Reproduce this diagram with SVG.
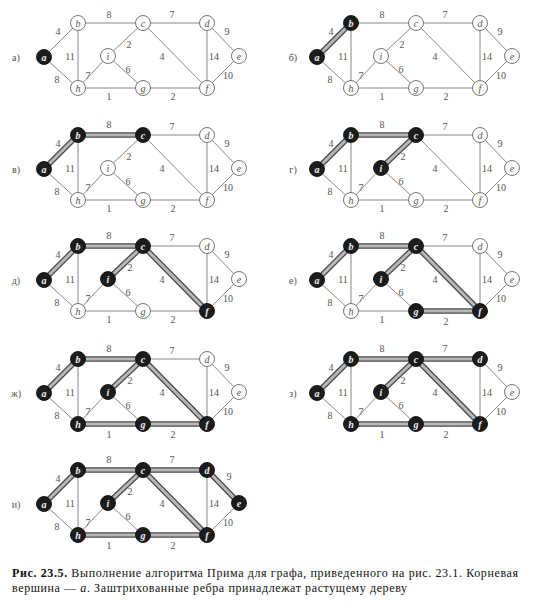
<svg xmlns="http://www.w3.org/2000/svg" width="541" height="611" viewBox="0 0 541 611">
<style>
.bg{fill:#ffffff}
.e{stroke:#7a7a7a;stroke-width:0.9;fill:none}
.t1{stroke:#4a4a4a;stroke-width:5.5;stroke-linecap:round;fill:none}
.t2{stroke:#b8b8b8;stroke-width:3;stroke-linecap:round;fill:none}
.w{font-family:"Liberation Serif","Times New Roman",serif;font-size:10px;fill:#555;text-anchor:middle}
.pl{font-family:"Liberation Serif","Times New Roman",serif;font-size:10px;fill:#555;text-anchor:middle}
.n circle{fill:#fff;stroke:#666;stroke-width:0.9}
.n text{font-family:"Liberation Serif","Times New Roman",serif;font-style:italic;font-size:10px;fill:#555;text-anchor:middle}
.k circle{fill:#1c1c1c;stroke:#111;stroke-width:0.9}
.k text{font-family:"Liberation Serif","Times New Roman",serif;font-style:italic;font-weight:bold;font-size:10px;fill:#eee;text-anchor:middle}
.cap{font-family:"Liberation Serif","Times New Roman",serif;font-size:12px;fill:#111}
</style>
<rect class="bg" x="0" y="0" width="541" height="611"/>

<!-- Panel а -->
<g id="panel-1" transform="translate(0,0)">
<text class="pl" x="16" y="61">а)</text>
<g id="p1-connectors">
<line class="e" x1="44" y1="57" x2="78" y2="23"/><line class="e" x1="78" y1="23" x2="143" y2="23"/><line class="e" x1="143" y1="23" x2="207" y2="23"/><line class="e" x1="207" y1="23" x2="239" y2="56"/><line class="e" x1="78" y1="23" x2="78" y2="88"/><line class="e" x1="44" y1="57" x2="78" y2="88"/><line class="e" x1="78" y1="88" x2="108" y2="56"/><line class="e" x1="143" y1="23" x2="108" y2="56"/><line class="e" x1="108" y1="56" x2="143" y2="88"/><line class="e" x1="78" y1="88" x2="143" y2="88"/><line class="e" x1="143" y1="88" x2="207" y2="88"/><line class="e" x1="143" y1="23" x2="207" y2="88"/><line class="e" x1="207" y1="23" x2="207" y2="88"/><line class="e" x1="239" y1="56" x2="207" y2="88"/>
<text class="w" x="58" y="35">4</text><text class="w" x="109" y="18">8</text><text class="w" x="172" y="18">7</text><text class="w" x="227" y="35">9</text><text class="w" x="70" y="60">11</text><text class="w" x="129" y="48">2</text><text class="w" x="162" y="60">4</text><text class="w" x="214" y="60">14</text><text class="w" x="228" y="79">10</text><text class="w" x="57" y="83">8</text><text class="w" x="88" y="79">7</text><text class="w" x="128" y="73">6</text><text class="w" x="109" y="100">1</text><text class="w" x="173" y="100">2</text>
</g>
<g id="p1-a" class="k"><circle cx="44" cy="57" r="7.5"/><text x="44" y="60.5">a</text></g>
<g id="p1-b" class="n"><circle cx="78" cy="23" r="7.5"/><text x="78" y="26.5">b</text></g>
<g id="p1-c" class="n"><circle cx="143" cy="23" r="7.5"/><text x="143" y="26.5">c</text></g>
<g id="p1-d" class="n"><circle cx="207" cy="23" r="7.5"/><text x="207" y="26.5">d</text></g>
<g id="p1-e" class="n"><circle cx="239" cy="56" r="7.5"/><text x="239" y="59.5">e</text></g>
<g id="p1-i" class="n"><circle cx="108" cy="56" r="7.5"/><text x="108" y="59.5">i</text></g>
<g id="p1-h" class="n"><circle cx="78" cy="88" r="7.5"/><text x="78" y="91.5">h</text></g>
<g id="p1-g" class="n"><circle cx="143" cy="88" r="7.5"/><text x="143" y="91.5">g</text></g>
<g id="p1-f" class="n"><circle cx="207" cy="88" r="7.5"/><text x="207" y="91.5">f</text></g>
</g>

<!-- Panel б -->
<g id="panel-2" transform="translate(273,0)">
<text class="pl" x="20" y="61">б)</text>
<g id="p2-connectors">
<line class="e" x1="44" y1="57" x2="78" y2="23"/><line class="e" x1="78" y1="23" x2="143" y2="23"/><line class="e" x1="143" y1="23" x2="207" y2="23"/><line class="e" x1="207" y1="23" x2="239" y2="56"/><line class="e" x1="78" y1="23" x2="78" y2="88"/><line class="e" x1="44" y1="57" x2="78" y2="88"/><line class="e" x1="78" y1="88" x2="108" y2="56"/><line class="e" x1="143" y1="23" x2="108" y2="56"/><line class="e" x1="108" y1="56" x2="143" y2="88"/><line class="e" x1="78" y1="88" x2="143" y2="88"/><line class="e" x1="143" y1="88" x2="207" y2="88"/><line class="e" x1="143" y1="23" x2="207" y2="88"/><line class="e" x1="207" y1="23" x2="207" y2="88"/><line class="e" x1="239" y1="56" x2="207" y2="88"/>
<line class="t1" x1="44" y1="57" x2="78" y2="23"/><line class="t2" x1="44" y1="57" x2="78" y2="23"/>
<text class="w" x="58" y="35">4</text><text class="w" x="109" y="18">8</text><text class="w" x="172" y="18">7</text><text class="w" x="227" y="35">9</text><text class="w" x="70" y="60">11</text><text class="w" x="129" y="48">2</text><text class="w" x="162" y="60">4</text><text class="w" x="214" y="60">14</text><text class="w" x="228" y="79">10</text><text class="w" x="57" y="83">8</text><text class="w" x="88" y="79">7</text><text class="w" x="128" y="73">6</text><text class="w" x="109" y="100">1</text><text class="w" x="173" y="100">2</text>
</g>
<g id="p2-a" class="k"><circle cx="44" cy="57" r="7.5"/><text x="44" y="60.5">a</text></g>
<g id="p2-b" class="k"><circle cx="78" cy="23" r="7.5"/><text x="78" y="26.5">b</text></g>
<g id="p2-c" class="n"><circle cx="143" cy="23" r="7.5"/><text x="143" y="26.5">c</text></g>
<g id="p2-d" class="n"><circle cx="207" cy="23" r="7.5"/><text x="207" y="26.5">d</text></g>
<g id="p2-e" class="n"><circle cx="239" cy="56" r="7.5"/><text x="239" y="59.5">e</text></g>
<g id="p2-i" class="n"><circle cx="108" cy="56" r="7.5"/><text x="108" y="59.5">i</text></g>
<g id="p2-h" class="n"><circle cx="78" cy="88" r="7.5"/><text x="78" y="91.5">h</text></g>
<g id="p2-g" class="n"><circle cx="143" cy="88" r="7.5"/><text x="143" y="91.5">g</text></g>
<g id="p2-f" class="n"><circle cx="207" cy="88" r="7.5"/><text x="207" y="91.5">f</text></g>
</g>

<!-- Panel в -->
<g id="panel-3" transform="translate(0,112)">
<text class="pl" x="16" y="61">в)</text>
<g id="p3-connectors">
<line class="e" x1="44" y1="57" x2="78" y2="23"/><line class="e" x1="78" y1="23" x2="143" y2="23"/><line class="e" x1="143" y1="23" x2="207" y2="23"/><line class="e" x1="207" y1="23" x2="239" y2="56"/><line class="e" x1="78" y1="23" x2="78" y2="88"/><line class="e" x1="44" y1="57" x2="78" y2="88"/><line class="e" x1="78" y1="88" x2="108" y2="56"/><line class="e" x1="143" y1="23" x2="108" y2="56"/><line class="e" x1="108" y1="56" x2="143" y2="88"/><line class="e" x1="78" y1="88" x2="143" y2="88"/><line class="e" x1="143" y1="88" x2="207" y2="88"/><line class="e" x1="143" y1="23" x2="207" y2="88"/><line class="e" x1="207" y1="23" x2="207" y2="88"/><line class="e" x1="239" y1="56" x2="207" y2="88"/>
<line class="t1" x1="44" y1="57" x2="78" y2="23"/><line class="t2" x1="44" y1="57" x2="78" y2="23"/>
<line class="t1" x1="78" y1="23" x2="143" y2="23"/><line class="t2" x1="78" y1="23" x2="143" y2="23"/>
<text class="w" x="58" y="35">4</text><text class="w" x="109" y="16">8</text><text class="w" x="172" y="18">7</text><text class="w" x="227" y="35">9</text><text class="w" x="70" y="60">11</text><text class="w" x="129" y="48">2</text><text class="w" x="162" y="60">4</text><text class="w" x="214" y="60">14</text><text class="w" x="228" y="79">10</text><text class="w" x="57" y="83">8</text><text class="w" x="88" y="79">7</text><text class="w" x="128" y="73">6</text><text class="w" x="109" y="100">1</text><text class="w" x="173" y="100">2</text>
</g>
<g id="p3-a" class="k"><circle cx="44" cy="57" r="7.5"/><text x="44" y="60.5">a</text></g>
<g id="p3-b" class="k"><circle cx="78" cy="23" r="7.5"/><text x="78" y="26.5">b</text></g>
<g id="p3-c" class="k"><circle cx="143" cy="23" r="7.5"/><text x="143" y="26.5">c</text></g>
<g id="p3-d" class="n"><circle cx="207" cy="23" r="7.5"/><text x="207" y="26.5">d</text></g>
<g id="p3-e" class="n"><circle cx="239" cy="56" r="7.5"/><text x="239" y="59.5">e</text></g>
<g id="p3-i" class="n"><circle cx="108" cy="56" r="7.5"/><text x="108" y="59.5">i</text></g>
<g id="p3-h" class="n"><circle cx="78" cy="88" r="7.5"/><text x="78" y="91.5">h</text></g>
<g id="p3-g" class="n"><circle cx="143" cy="88" r="7.5"/><text x="143" y="91.5">g</text></g>
<g id="p3-f" class="n"><circle cx="207" cy="88" r="7.5"/><text x="207" y="91.5">f</text></g>
</g>

<!-- Panel г -->
<g id="panel-4" transform="translate(273,112)">
<text class="pl" x="20" y="61">г)</text>
<g id="p4-connectors">
<line class="e" x1="44" y1="57" x2="78" y2="23"/><line class="e" x1="78" y1="23" x2="143" y2="23"/><line class="e" x1="143" y1="23" x2="207" y2="23"/><line class="e" x1="207" y1="23" x2="239" y2="56"/><line class="e" x1="78" y1="23" x2="78" y2="88"/><line class="e" x1="44" y1="57" x2="78" y2="88"/><line class="e" x1="78" y1="88" x2="108" y2="56"/><line class="e" x1="143" y1="23" x2="108" y2="56"/><line class="e" x1="108" y1="56" x2="143" y2="88"/><line class="e" x1="78" y1="88" x2="143" y2="88"/><line class="e" x1="143" y1="88" x2="207" y2="88"/><line class="e" x1="143" y1="23" x2="207" y2="88"/><line class="e" x1="207" y1="23" x2="207" y2="88"/><line class="e" x1="239" y1="56" x2="207" y2="88"/>
<line class="t1" x1="44" y1="57" x2="78" y2="23"/><line class="t2" x1="44" y1="57" x2="78" y2="23"/>
<line class="t1" x1="78" y1="23" x2="143" y2="23"/><line class="t2" x1="78" y1="23" x2="143" y2="23"/>
<line class="t1" x1="143" y1="23" x2="108" y2="56"/><line class="t2" x1="143" y1="23" x2="108" y2="56"/>
<text class="w" x="58" y="35">4</text><text class="w" x="109" y="16">8</text><text class="w" x="172" y="18">7</text><text class="w" x="227" y="35">9</text><text class="w" x="70" y="60">11</text><text class="w" x="130" y="48">2</text><text class="w" x="162" y="60">4</text><text class="w" x="214" y="60">14</text><text class="w" x="228" y="79">10</text><text class="w" x="57" y="83">8</text><text class="w" x="88" y="79">7</text><text class="w" x="128" y="73">6</text><text class="w" x="109" y="100">1</text><text class="w" x="173" y="100">2</text>
</g>
<g id="p4-a" class="k"><circle cx="44" cy="57" r="7.5"/><text x="44" y="60.5">a</text></g>
<g id="p4-b" class="k"><circle cx="78" cy="23" r="7.5"/><text x="78" y="26.5">b</text></g>
<g id="p4-c" class="k"><circle cx="143" cy="23" r="7.5"/><text x="143" y="26.5">c</text></g>
<g id="p4-d" class="n"><circle cx="207" cy="23" r="7.5"/><text x="207" y="26.5">d</text></g>
<g id="p4-e" class="n"><circle cx="239" cy="56" r="7.5"/><text x="239" y="59.5">e</text></g>
<g id="p4-i" class="k"><circle cx="108" cy="56" r="7.5"/><text x="108" y="59.5">i</text></g>
<g id="p4-h" class="n"><circle cx="78" cy="88" r="7.5"/><text x="78" y="91.5">h</text></g>
<g id="p4-g" class="n"><circle cx="143" cy="88" r="7.5"/><text x="143" y="91.5">g</text></g>
<g id="p4-f" class="n"><circle cx="207" cy="88" r="7.5"/><text x="207" y="91.5">f</text></g>
</g>

<!-- Panel д -->
<g id="panel-5" transform="translate(0,223)">
<text class="pl" x="16" y="61">д)</text>
<g id="p5-connectors">
<line class="e" x1="44" y1="57" x2="78" y2="23"/><line class="e" x1="78" y1="23" x2="143" y2="23"/><line class="e" x1="143" y1="23" x2="207" y2="23"/><line class="e" x1="207" y1="23" x2="239" y2="56"/><line class="e" x1="78" y1="23" x2="78" y2="88"/><line class="e" x1="44" y1="57" x2="78" y2="88"/><line class="e" x1="78" y1="88" x2="108" y2="56"/><line class="e" x1="143" y1="23" x2="108" y2="56"/><line class="e" x1="108" y1="56" x2="143" y2="88"/><line class="e" x1="78" y1="88" x2="143" y2="88"/><line class="e" x1="143" y1="88" x2="207" y2="88"/><line class="e" x1="143" y1="23" x2="207" y2="88"/><line class="e" x1="207" y1="23" x2="207" y2="88"/><line class="e" x1="239" y1="56" x2="207" y2="88"/>
<line class="t1" x1="44" y1="57" x2="78" y2="23"/><line class="t2" x1="44" y1="57" x2="78" y2="23"/>
<line class="t1" x1="78" y1="23" x2="143" y2="23"/><line class="t2" x1="78" y1="23" x2="143" y2="23"/>
<line class="t1" x1="143" y1="23" x2="108" y2="56"/><line class="t2" x1="143" y1="23" x2="108" y2="56"/>
<line class="t1" x1="143" y1="23" x2="207" y2="88"/><line class="t2" x1="143" y1="23" x2="207" y2="88"/>
<text class="w" x="58" y="35">4</text><text class="w" x="109" y="16">8</text><text class="w" x="172" y="18">7</text><text class="w" x="227" y="35">9</text><text class="w" x="70" y="60">11</text><text class="w" x="130" y="48">2</text><text class="w" x="162" y="60">4</text><text class="w" x="214" y="60">14</text><text class="w" x="228" y="79">10</text><text class="w" x="57" y="83">8</text><text class="w" x="88" y="79">7</text><text class="w" x="128" y="73">6</text><text class="w" x="109" y="100">1</text><text class="w" x="173" y="100">2</text>
</g>
<g id="p5-a" class="k"><circle cx="44" cy="57" r="7.5"/><text x="44" y="60.5">a</text></g>
<g id="p5-b" class="k"><circle cx="78" cy="23" r="7.5"/><text x="78" y="26.5">b</text></g>
<g id="p5-c" class="k"><circle cx="143" cy="23" r="7.5"/><text x="143" y="26.5">c</text></g>
<g id="p5-d" class="n"><circle cx="207" cy="23" r="7.5"/><text x="207" y="26.5">d</text></g>
<g id="p5-e" class="n"><circle cx="239" cy="56" r="7.5"/><text x="239" y="59.5">e</text></g>
<g id="p5-i" class="k"><circle cx="108" cy="56" r="7.5"/><text x="108" y="59.5">i</text></g>
<g id="p5-h" class="n"><circle cx="78" cy="88" r="7.5"/><text x="78" y="91.5">h</text></g>
<g id="p5-g" class="n"><circle cx="143" cy="88" r="7.5"/><text x="143" y="91.5">g</text></g>
<g id="p5-f" class="k"><circle cx="207" cy="88" r="7.5"/><text x="207" y="91.5">f</text></g>
</g>

<!-- Panel е -->
<g id="panel-6" transform="translate(273,223)">
<text class="pl" x="20" y="61">е)</text>
<g id="p6-connectors">
<line class="e" x1="44" y1="57" x2="78" y2="23"/><line class="e" x1="78" y1="23" x2="143" y2="23"/><line class="e" x1="143" y1="23" x2="207" y2="23"/><line class="e" x1="207" y1="23" x2="239" y2="56"/><line class="e" x1="78" y1="23" x2="78" y2="88"/><line class="e" x1="44" y1="57" x2="78" y2="88"/><line class="e" x1="78" y1="88" x2="108" y2="56"/><line class="e" x1="143" y1="23" x2="108" y2="56"/><line class="e" x1="108" y1="56" x2="143" y2="88"/><line class="e" x1="78" y1="88" x2="143" y2="88"/><line class="e" x1="143" y1="88" x2="207" y2="88"/><line class="e" x1="143" y1="23" x2="207" y2="88"/><line class="e" x1="207" y1="23" x2="207" y2="88"/><line class="e" x1="239" y1="56" x2="207" y2="88"/>
<line class="t1" x1="44" y1="57" x2="78" y2="23"/><line class="t2" x1="44" y1="57" x2="78" y2="23"/>
<line class="t1" x1="78" y1="23" x2="143" y2="23"/><line class="t2" x1="78" y1="23" x2="143" y2="23"/>
<line class="t1" x1="143" y1="23" x2="108" y2="56"/><line class="t2" x1="143" y1="23" x2="108" y2="56"/>
<line class="t1" x1="143" y1="23" x2="207" y2="88"/><line class="t2" x1="143" y1="23" x2="207" y2="88"/>
<line class="t1" x1="143" y1="88" x2="207" y2="88"/><line class="t2" x1="143" y1="88" x2="207" y2="88"/>
<text class="w" x="58" y="35">4</text><text class="w" x="109" y="16">8</text><text class="w" x="172" y="18">7</text><text class="w" x="227" y="35">9</text><text class="w" x="70" y="60">11</text><text class="w" x="130" y="48">2</text><text class="w" x="162" y="60">4</text><text class="w" x="214" y="60">14</text><text class="w" x="228" y="79">10</text><text class="w" x="57" y="83">8</text><text class="w" x="88" y="79">7</text><text class="w" x="128" y="73">6</text><text class="w" x="109" y="100">1</text><text class="w" x="173" y="102">2</text>
</g>
<g id="p6-a" class="k"><circle cx="44" cy="57" r="7.5"/><text x="44" y="60.5">a</text></g>
<g id="p6-b" class="k"><circle cx="78" cy="23" r="7.5"/><text x="78" y="26.5">b</text></g>
<g id="p6-c" class="k"><circle cx="143" cy="23" r="7.5"/><text x="143" y="26.5">c</text></g>
<g id="p6-d" class="n"><circle cx="207" cy="23" r="7.5"/><text x="207" y="26.5">d</text></g>
<g id="p6-e" class="n"><circle cx="239" cy="56" r="7.5"/><text x="239" y="59.5">e</text></g>
<g id="p6-i" class="k"><circle cx="108" cy="56" r="7.5"/><text x="108" y="59.5">i</text></g>
<g id="p6-h" class="n"><circle cx="78" cy="88" r="7.5"/><text x="78" y="91.5">h</text></g>
<g id="p6-g" class="k"><circle cx="143" cy="88" r="7.5"/><text x="143" y="91.5">g</text></g>
<g id="p6-f" class="k"><circle cx="207" cy="88" r="7.5"/><text x="207" y="91.5">f</text></g>
</g>

<!-- Panel ж -->
<g id="panel-7" transform="translate(0,336)">
<text class="pl" x="16" y="61">ж)</text>
<g id="p7-connectors">
<line class="e" x1="44" y1="57" x2="78" y2="23"/><line class="e" x1="78" y1="23" x2="143" y2="23"/><line class="e" x1="143" y1="23" x2="207" y2="23"/><line class="e" x1="207" y1="23" x2="239" y2="56"/><line class="e" x1="78" y1="23" x2="78" y2="88"/><line class="e" x1="44" y1="57" x2="78" y2="88"/><line class="e" x1="78" y1="88" x2="108" y2="56"/><line class="e" x1="143" y1="23" x2="108" y2="56"/><line class="e" x1="108" y1="56" x2="143" y2="88"/><line class="e" x1="78" y1="88" x2="143" y2="88"/><line class="e" x1="143" y1="88" x2="207" y2="88"/><line class="e" x1="143" y1="23" x2="207" y2="88"/><line class="e" x1="207" y1="23" x2="207" y2="88"/><line class="e" x1="239" y1="56" x2="207" y2="88"/>
<line class="t1" x1="44" y1="57" x2="78" y2="23"/><line class="t2" x1="44" y1="57" x2="78" y2="23"/>
<line class="t1" x1="78" y1="23" x2="143" y2="23"/><line class="t2" x1="78" y1="23" x2="143" y2="23"/>
<line class="t1" x1="143" y1="23" x2="108" y2="56"/><line class="t2" x1="143" y1="23" x2="108" y2="56"/>
<line class="t1" x1="143" y1="23" x2="207" y2="88"/><line class="t2" x1="143" y1="23" x2="207" y2="88"/>
<line class="t1" x1="143" y1="88" x2="207" y2="88"/><line class="t2" x1="143" y1="88" x2="207" y2="88"/>
<line class="t1" x1="78" y1="88" x2="143" y2="88"/><line class="t2" x1="78" y1="88" x2="143" y2="88"/>
<text class="w" x="58" y="35">4</text><text class="w" x="109" y="16">8</text><text class="w" x="172" y="18">7</text><text class="w" x="227" y="35">9</text><text class="w" x="70" y="60">11</text><text class="w" x="130" y="48">2</text><text class="w" x="162" y="60">4</text><text class="w" x="214" y="60">14</text><text class="w" x="228" y="79">10</text><text class="w" x="57" y="83">8</text><text class="w" x="88" y="79">7</text><text class="w" x="128" y="73">6</text><text class="w" x="109" y="102">1</text><text class="w" x="173" y="102">2</text>
</g>
<g id="p7-a" class="k"><circle cx="44" cy="57" r="7.5"/><text x="44" y="60.5">a</text></g>
<g id="p7-b" class="k"><circle cx="78" cy="23" r="7.5"/><text x="78" y="26.5">b</text></g>
<g id="p7-c" class="k"><circle cx="143" cy="23" r="7.5"/><text x="143" y="26.5">c</text></g>
<g id="p7-d" class="n"><circle cx="207" cy="23" r="7.5"/><text x="207" y="26.5">d</text></g>
<g id="p7-e" class="n"><circle cx="239" cy="56" r="7.5"/><text x="239" y="59.5">e</text></g>
<g id="p7-i" class="k"><circle cx="108" cy="56" r="7.5"/><text x="108" y="59.5">i</text></g>
<g id="p7-h" class="k"><circle cx="78" cy="88" r="7.5"/><text x="78" y="91.5">h</text></g>
<g id="p7-g" class="k"><circle cx="143" cy="88" r="7.5"/><text x="143" y="91.5">g</text></g>
<g id="p7-f" class="k"><circle cx="207" cy="88" r="7.5"/><text x="207" y="91.5">f</text></g>
</g>

<!-- Panel з -->
<g id="panel-8" transform="translate(273,336)">
<text class="pl" x="20" y="61">з)</text>
<g id="p8-connectors">
<line class="e" x1="44" y1="57" x2="78" y2="23"/><line class="e" x1="78" y1="23" x2="143" y2="23"/><line class="e" x1="143" y1="23" x2="207" y2="23"/><line class="e" x1="207" y1="23" x2="239" y2="56"/><line class="e" x1="78" y1="23" x2="78" y2="88"/><line class="e" x1="44" y1="57" x2="78" y2="88"/><line class="e" x1="78" y1="88" x2="108" y2="56"/><line class="e" x1="143" y1="23" x2="108" y2="56"/><line class="e" x1="108" y1="56" x2="143" y2="88"/><line class="e" x1="78" y1="88" x2="143" y2="88"/><line class="e" x1="143" y1="88" x2="207" y2="88"/><line class="e" x1="143" y1="23" x2="207" y2="88"/><line class="e" x1="207" y1="23" x2="207" y2="88"/><line class="e" x1="239" y1="56" x2="207" y2="88"/>
<line class="t1" x1="44" y1="57" x2="78" y2="23"/><line class="t2" x1="44" y1="57" x2="78" y2="23"/>
<line class="t1" x1="78" y1="23" x2="143" y2="23"/><line class="t2" x1="78" y1="23" x2="143" y2="23"/>
<line class="t1" x1="143" y1="23" x2="108" y2="56"/><line class="t2" x1="143" y1="23" x2="108" y2="56"/>
<line class="t1" x1="143" y1="23" x2="207" y2="88"/><line class="t2" x1="143" y1="23" x2="207" y2="88"/>
<line class="t1" x1="143" y1="88" x2="207" y2="88"/><line class="t2" x1="143" y1="88" x2="207" y2="88"/>
<line class="t1" x1="78" y1="88" x2="143" y2="88"/><line class="t2" x1="78" y1="88" x2="143" y2="88"/>
<line class="t1" x1="143" y1="23" x2="207" y2="23"/><line class="t2" x1="143" y1="23" x2="207" y2="23"/>
<text class="w" x="58" y="35">4</text><text class="w" x="109" y="16">8</text><text class="w" x="172" y="16">7</text><text class="w" x="227" y="35">9</text><text class="w" x="70" y="60">11</text><text class="w" x="130" y="48">2</text><text class="w" x="162" y="60">4</text><text class="w" x="214" y="60">14</text><text class="w" x="228" y="79">10</text><text class="w" x="57" y="83">8</text><text class="w" x="88" y="79">7</text><text class="w" x="128" y="73">6</text><text class="w" x="109" y="102">1</text><text class="w" x="173" y="102">2</text>
</g>
<g id="p8-a" class="k"><circle cx="44" cy="57" r="7.5"/><text x="44" y="60.5">a</text></g>
<g id="p8-b" class="k"><circle cx="78" cy="23" r="7.5"/><text x="78" y="26.5">b</text></g>
<g id="p8-c" class="k"><circle cx="143" cy="23" r="7.5"/><text x="143" y="26.5">c</text></g>
<g id="p8-d" class="k"><circle cx="207" cy="23" r="7.5"/><text x="207" y="26.5">d</text></g>
<g id="p8-e" class="n"><circle cx="239" cy="56" r="7.5"/><text x="239" y="59.5">e</text></g>
<g id="p8-i" class="k"><circle cx="108" cy="56" r="7.5"/><text x="108" y="59.5">i</text></g>
<g id="p8-h" class="k"><circle cx="78" cy="88" r="7.5"/><text x="78" y="91.5">h</text></g>
<g id="p8-g" class="k"><circle cx="143" cy="88" r="7.5"/><text x="143" y="91.5">g</text></g>
<g id="p8-f" class="k"><circle cx="207" cy="88" r="7.5"/><text x="207" y="91.5">f</text></g>
</g>

<!-- Panel и -->
<g id="panel-9" transform="translate(0,447)">
<text class="pl" x="16" y="61">и)</text>
<g id="p9-connectors">
<line class="e" x1="44" y1="57" x2="78" y2="23"/><line class="e" x1="78" y1="23" x2="143" y2="23"/><line class="e" x1="143" y1="23" x2="207" y2="23"/><line class="e" x1="207" y1="23" x2="239" y2="56"/><line class="e" x1="78" y1="23" x2="78" y2="88"/><line class="e" x1="44" y1="57" x2="78" y2="88"/><line class="e" x1="78" y1="88" x2="108" y2="56"/><line class="e" x1="143" y1="23" x2="108" y2="56"/><line class="e" x1="108" y1="56" x2="143" y2="88"/><line class="e" x1="78" y1="88" x2="143" y2="88"/><line class="e" x1="143" y1="88" x2="207" y2="88"/><line class="e" x1="143" y1="23" x2="207" y2="88"/><line class="e" x1="207" y1="23" x2="207" y2="88"/><line class="e" x1="239" y1="56" x2="207" y2="88"/>
<line class="t1" x1="44" y1="57" x2="78" y2="23"/><line class="t2" x1="44" y1="57" x2="78" y2="23"/>
<line class="t1" x1="78" y1="23" x2="143" y2="23"/><line class="t2" x1="78" y1="23" x2="143" y2="23"/>
<line class="t1" x1="143" y1="23" x2="108" y2="56"/><line class="t2" x1="143" y1="23" x2="108" y2="56"/>
<line class="t1" x1="143" y1="23" x2="207" y2="88"/><line class="t2" x1="143" y1="23" x2="207" y2="88"/>
<line class="t1" x1="143" y1="88" x2="207" y2="88"/><line class="t2" x1="143" y1="88" x2="207" y2="88"/>
<line class="t1" x1="78" y1="88" x2="143" y2="88"/><line class="t2" x1="78" y1="88" x2="143" y2="88"/>
<line class="t1" x1="143" y1="23" x2="207" y2="23"/><line class="t2" x1="143" y1="23" x2="207" y2="23"/>
<line class="t1" x1="207" y1="23" x2="239" y2="56"/><line class="t2" x1="207" y1="23" x2="239" y2="56"/>
<text class="w" x="58" y="35">4</text><text class="w" x="109" y="16">8</text><text class="w" x="172" y="16">7</text><text class="w" x="229" y="33">9</text><text class="w" x="70" y="60">11</text><text class="w" x="130" y="48">2</text><text class="w" x="162" y="60">4</text><text class="w" x="214" y="60">14</text><text class="w" x="228" y="79">10</text><text class="w" x="57" y="83">8</text><text class="w" x="88" y="79">7</text><text class="w" x="128" y="73">6</text><text class="w" x="109" y="102">1</text><text class="w" x="173" y="102">2</text>
</g>
<g id="p9-a" class="k"><circle cx="44" cy="57" r="7.5"/><text x="44" y="60.5">a</text></g>
<g id="p9-b" class="k"><circle cx="78" cy="23" r="7.5"/><text x="78" y="26.5">b</text></g>
<g id="p9-c" class="k"><circle cx="143" cy="23" r="7.5"/><text x="143" y="26.5">c</text></g>
<g id="p9-d" class="k"><circle cx="207" cy="23" r="7.5"/><text x="207" y="26.5">d</text></g>
<g id="p9-e" class="k"><circle cx="239" cy="56" r="7.5"/><text x="239" y="59.5">e</text></g>
<g id="p9-i" class="k"><circle cx="108" cy="56" r="7.5"/><text x="108" y="59.5">i</text></g>
<g id="p9-h" class="k"><circle cx="78" cy="88" r="7.5"/><text x="78" y="91.5">h</text></g>
<g id="p9-g" class="k"><circle cx="143" cy="88" r="7.5"/><text x="143" y="91.5">g</text></g>
<g id="p9-f" class="k"><circle cx="207" cy="88" r="7.5"/><text x="207" y="91.5">f</text></g>
</g>

<!-- Caption -->
<g id="caption">
<text class="cap" x="12" y="577" textLength="506" lengthAdjust="spacing"><tspan font-weight="bold">Рис. 23.5.</tspan> Выполнение алгоритма Прима для графа, приведенного на рис. 23.1. Корневая</text>
<text class="cap" x="12" y="592" textLength="395" lengthAdjust="spacing">вершина — <tspan font-style="italic">a</tspan>. Заштрихованные ребра принадлежат растущему дереву</text>
</g>
</svg>
